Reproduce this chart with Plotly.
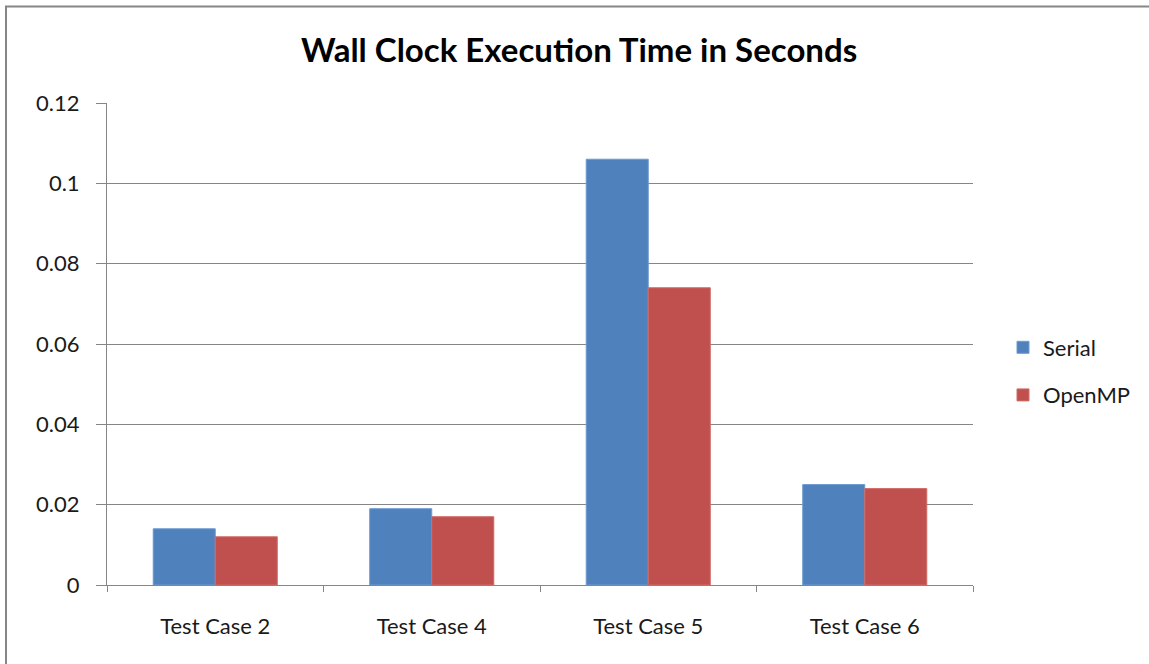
import plotly.graph_objects as go

categories = ["Test Case 2", "Test Case 4", "Test Case 5", "Test Case 6"]
serial = [0.014, 0.019, 0.106, 0.025]
openmp = [0.012, 0.017, 0.074, 0.024]

FONT = "Lato, 'Open Sans', sans-serif"
GRID = "#868686"
TXT = "#1a1a1a"

fig = go.Figure()
fig.add_trace(go.Bar(
    name="Serial", x=categories, y=serial, legendgroup="s",
    marker=dict(color="#4F81BD", line=dict(color="#6E9AD0", width=1)),
))
fig.add_trace(go.Bar(
    name="OpenMP", x=categories, y=openmp, legendgroup="o",
    marker=dict(color="#C0504D", line=dict(color="#D06A67", width=1)),
))

fig.update_layout(
    width=1149, height=664,
    margin=dict(l=107, r=176, t=103, b=79, autoexpand=False),
    paper_bgcolor="white", plot_bgcolor="white",
    barmode="group", bargap=0.427, bargroupgap=0,
    title=dict(text="<b>Wall Clock Execution Time in Seconds</b>",
               x=0.504, xanchor="center", xref="container",
               y=1 - 50 / 664, yanchor="middle",
               font=dict(family=FONT, size=33, color="#000000")),
    font=dict(family=FONT, color=TXT),
    legend=dict(xref="container", yref="container",
                x=1003 / 1149, y=1 - 371.5 / 664,
                xanchor="left", yanchor="middle",
                font=dict(size=22, color=TXT),
                traceorder="grouped", tracegroupgap=16,
                itemwidth=30),
    showlegend=True,
)
fig.update_xaxes(
    type="category", showline=True, linecolor=GRID, linewidth=1,
    ticks="outside", tickson="boundaries", ticklen=6, tickcolor=GRID,
    ticklabelstandoff=22,
    tickfont=dict(size=22, color=TXT), showgrid=False,
)
fig.update_yaxes(
    range=[0, 0.12], dtick=0.02, showline=True, linecolor=GRID, linewidth=1,
    ticks="outside", ticklen=10, tickcolor=GRID, ticklabelstandoff=12,
    showgrid=True, gridcolor=GRID, gridwidth=1,
    tickfont=dict(size=22, color=TXT), zeroline=False,
)

# outer chart frame
fig.add_shape(type="rect", xref="paper", yref="paper",
              x0=(6 - 107) / 866, x1=1.3, y0=-0.3, y1=(585 - 6.5) / 482,
              line=dict(color="#868686", width=2), fillcolor="rgba(0,0,0,0)",
              layer="below")

fig.write_html("out.html")
